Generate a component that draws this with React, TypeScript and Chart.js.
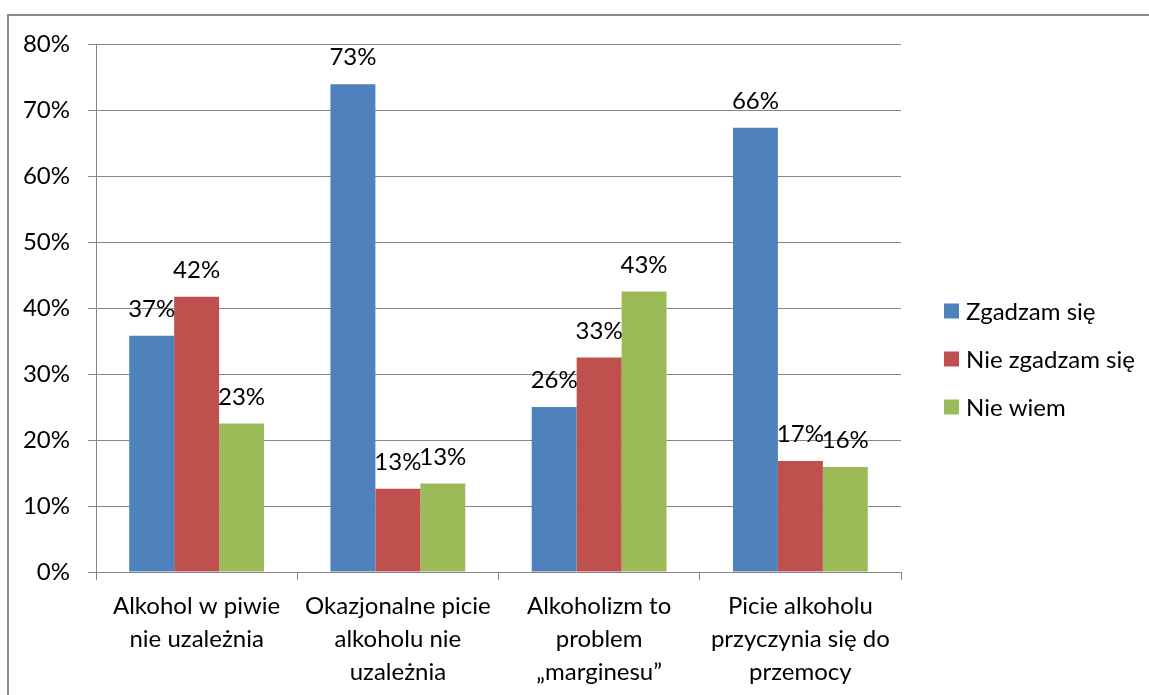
import React, { useEffect, useRef } from "react";
import { Chart, registerables } from "chart.js";

Chart.register(...registerables);

const categories: string[][] = [
  ["Alkohol w piwie", "nie uzależnia"],
  ["Okazjonalne picie", "alkoholu nie", "uzależnia"],
  ["Alkoholizm to", "problem", "„marginesu”"],
  ["Picie alkoholu", "przyczynia się do", "przemocy"],
];

const seriesNames = ["Zgadzam się", "Nie zgadzam się", "Nie wiem"];
const seriesColors = ["#4F81BD", "#C0504D", "#9BBB59"];

const zgadzamValues = [35.8, 73.9, 25.0, 67.3];
const nieZgadzamValues = [41.7, 12.6, 32.5, 16.8];
const nieWiemValues = [22.5, 13.4, 42.5, 15.9];

const zgadzamLabels = ["37%", "73%", "26%", "66%"];
const nieZgadzamLabels = ["42%", "13%", "33%", "17%"];
const nieWiemLabels = ["23%", "13%", "43%", "16%"];

const yMin = 0;
const yMax = 80;
const yStep = 10;

const FONT = "Lato";
const FONT_SIZE = 24;
const GRID = "#868686";

const frameBorderPlugin = {
  id: "frameBorder",
  beforeDraw(chart: any) {
    const ctx = chart.ctx;
    ctx.save();
    ctx.fillStyle = "#fff";
    ctx.fillRect(0, 0, chart.width, chart.height);
    ctx.fillStyle = "#8a8a8a";
    ctx.fillRect(7, 14, 2, chart.height);
    ctx.fillRect(7, 14, chart.width, 2);
    ctx.restore();
  },
};

const dataLabelPlugin = {
  id: "dataLabels",
  afterDatasetsDraw(chart: any) {
    const ctx = chart.ctx;
    ctx.save();
    ctx.font = `${FONT_SIZE}px ${FONT}`;
    ctx.fillStyle = "#000";
    ctx.textAlign = "center";
    ctx.textBaseline = "alphabetic";
    chart.data.datasets.forEach((ds: any, di: number) => {
      const meta = chart.getDatasetMeta(di);
      meta.data.forEach((el: any, i: number) => {
        ctx.fillText(ds.valueLabels[i], el.x, el.y - 19);
      });
    });
    ctx.restore();
  },
};

const legendPlugin = {
  id: "customLegend",
  afterDraw(chart: any) {
    const ctx = chart.ctx;
    ctx.save();
    ctx.font = `${FONT_SIZE}px ${FONT}`;
    ctx.textAlign = "left";
    ctx.textBaseline = "middle";
    const x = chart.chartArea.right + 43;
    chart.data.datasets.forEach((ds: any, i: number) => {
      const cy = 311 + i * 48;
      ctx.fillStyle = ds.backgroundColor;
      ctx.fillRect(x, cy - 7.5, 15, 15);
      ctx.fillStyle = "#000";
      ctx.fillText(ds.label, x + 22, cy + 1);
    });
    ctx.restore();
  },
};

export default function App() {
  const ref = useRef<HTMLCanvasElement | null>(null);

  useEffect(() => {
    if (!ref.current) return;
    const valueSets = [zgadzamValues, nieZgadzamValues, nieWiemValues];
    const labelSets = [zgadzamLabels, nieZgadzamLabels, nieWiemLabels];
    const chart = new Chart(ref.current, {
      type: "bar",
      data: {
        labels: categories,
        datasets: seriesNames.map((name, i) => ({
          label: name,
          data: valueSets[i],
          valueLabels: labelSets[i],
          backgroundColor: seriesColors[i],
          borderWidth: 0,
          categoryPercentage: 0.67,
          barPercentage: 1.0,
        })) as any,
      },
      options: {
        responsive: false,
        animation: false,
        events: [],
        layout: { padding: { left: 0, top: 44, right: 248, bottom: 0 } },
        font: { family: FONT, size: FONT_SIZE },
        plugins: {
          legend: { display: false },
          tooltip: { enabled: false },
          title: { display: false },
        },
        scales: {
          x: {
            grid: {
              display: true,
              drawOnChartArea: false,
              drawTicks: true,
              tickLength: 8,
              color: GRID,
              offset: true,
            },
            border: { display: true, color: GRID, width: 1 },
            ticks: {
              color: "#000",
              padding: 10,
              maxRotation: 0,
              autoSkip: false,
              font: { family: FONT, size: FONT_SIZE, lineHeight: 1.375 },
            },
            afterFit(scale: any) {
              scale.height = 123;
            },
          },
          y: {
            min: yMin,
            max: yMax,
            grid: {
              color: GRID,
              lineWidth: 1,
              drawTicks: true,
              tickLength: 8,
            },
            border: { display: true, color: GRID, width: 1 },
            ticks: {
              stepSize: yStep,
              color: "#000",
              padding: 18,
              font: { family: FONT, size: FONT_SIZE },
              callback: (v: any) => `${v}%`,
            },
            afterFit(scale: any) {
              scale.width = 96;
            },
          },
        },
      },
      plugins: [frameBorderPlugin, dataLabelPlugin, legendPlugin],
    });
    return () => chart.destroy();
  }, []);

  return (
    <div style={{ position: "fixed", left: 0, top: 0, width: 1149, height: 695, overflow: "hidden", background: "#fff" }}>
      <canvas ref={ref} width={1149} height={695} style={{ display: "block" }} />
    </div>
  );
}
